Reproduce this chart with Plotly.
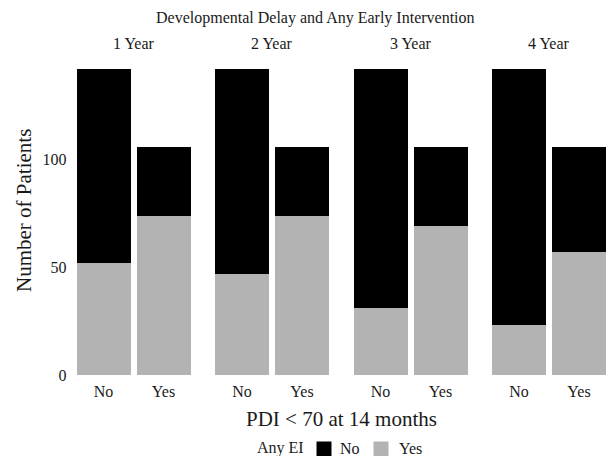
import plotly.graph_objects as go

# ---- data ----
years = ["1 Year", "2 Year", "3 Year", "4 Year"]
pdi_groups = ["No", "Yes"]
# Any EI = Yes (grey), per year, for PDI<70 = No / Yes
ei_yes_counts = [[52, 74], [47, 74], [31, 69], [23, 57]]
# Any EI = No (black), per year, for PDI<70 = No / Yes
ei_no_counts = [[90, 32], [95, 32], [111, 37], [119, 49]]
y_ticks = [0, 50, 100]

W, H = 609, 456
FONT = "Liberation Serif, Times New Roman, serif"
TXT = "#1a1a1a"
GREY = "#B3B3B3"
BLACK = "#000000"

# panel geometry (px)
panel_starts = [67.5, 206.0, 344.5, 483.0]
panel_w = 132.0
px_per_unit = 60.0

fig = go.Figure()
layout = {}
for i, yr in enumerate(years):
    xa = "x" if i == 0 else f"x{i+1}"
    fig.add_trace(go.Bar(x=pdi_groups, y=ei_yes_counts[i], marker=dict(color=GREY, line=dict(width=0)),
                         xaxis=xa, yaxis="y", name="Yes", showlegend=False))
    fig.add_trace(go.Bar(x=pdi_groups, y=ei_no_counts[i], marker=dict(color=BLACK, line=dict(width=0)),
                         xaxis=xa, yaxis="y", name="No", showlegend=False))
    x0 = panel_starts[i]
    x1 = min(x0 + panel_w, W)
    rng_hi = -0.6 + (x1 - x0) / px_per_unit
    key = "xaxis" if i == 0 else f"xaxis{i+1}"
    layout[key] = dict(domain=[x0 / W, x1 / W], anchor="y", type="category",
                       categoryorder="array", categoryarray=pdi_groups,
                       range=[-0.6, rng_hi], showgrid=False, zeroline=False, showline=False,
                       ticks="", ticklabelstandoff=5,
                       tickfont=dict(family=FONT, size=16, color=TXT), automargin=False)
    fig.add_annotation(text=yr, x=(x0 + panel_w / 2) / W, y=(H - 44) / H, xref="paper", yref="paper",
                       showarrow=False, xanchor="center", yanchor="middle",
                       font=dict(family=FONT, size=16, color=TXT))

zero_px = 375.0
ppu = 2.155
ymax = 150
y_dom = [(H - zero_px) / H, (H - (zero_px - ymax * ppu)) / H]
layout["yaxis"] = dict(domain=y_dom, anchor="x", range=[0, ymax], tickvals=y_ticks,
                       showgrid=False, zeroline=False, showline=False, ticks="",
                       tickfont=dict(family=FONT, size=16, color=TXT), automargin=False)

fig.update_layout(**layout)
fig.update_layout(width=W, height=H, margin=dict(l=0, r=0, t=0, b=0),
                  barmode="stack", bargap=0.1, plot_bgcolor="white", paper_bgcolor="white",
                  font=dict(family=FONT, color=TXT))

# titles
fig.add_annotation(text="Developmental Delay and Any Early Intervention", x=315.5 / W, y=(H - 18) / H,
                   xref="paper", yref="paper", showarrow=False, xanchor="center", yanchor="middle",
                   font=dict(family=FONT, size=16, color=TXT))
fig.add_annotation(text="PDI &lt; 70 at 14 months", x=341.25 / W, y=(H - 419) / H,
                   xref="paper", yref="paper", showarrow=False, xanchor="center", yanchor="middle",
                   font=dict(family=FONT, size=21, color=TXT))
fig.add_annotation(text="Number of Patients", x=24 / W, y=(H - 211) / H, textangle=-90,
                   xref="paper", yref="paper", showarrow=False, xanchor="center", yanchor="middle",
                   font=dict(family=FONT, size=21, color=TXT))

# legend (drawn)
leg_y = 448
fig.add_annotation(text="Any EI", x=255 / W, y=(H - leg_y) / H, xref="paper", yref="paper",
                   showarrow=False, xanchor="left", yanchor="middle", font=dict(family=FONT, size=16, color=TXT))
for (sx, col, lab, tx) in [(316.5, BLACK, "No", 338), (373.5, GREY, "Yes", 397)]:
    fig.add_shape(type="rect", xref="paper", yref="paper", x0=sx / W, x1=(sx + 15) / W,
                  y0=(H - 457) / H, y1=(H - 441.5) / H, fillcolor=col, line=dict(width=0))
    fig.add_annotation(text=lab, x=tx / W, y=(H - leg_y) / H, xref="paper", yref="paper",
                       showarrow=False, xanchor="left", yanchor="middle",
                       font=dict(family=FONT, size=16, color=TXT))

fig.write_html("out.html", config={"displayModeBar": False},
               post_script="document.body.style.margin='0';document.body.style.overflow='hidden';")
